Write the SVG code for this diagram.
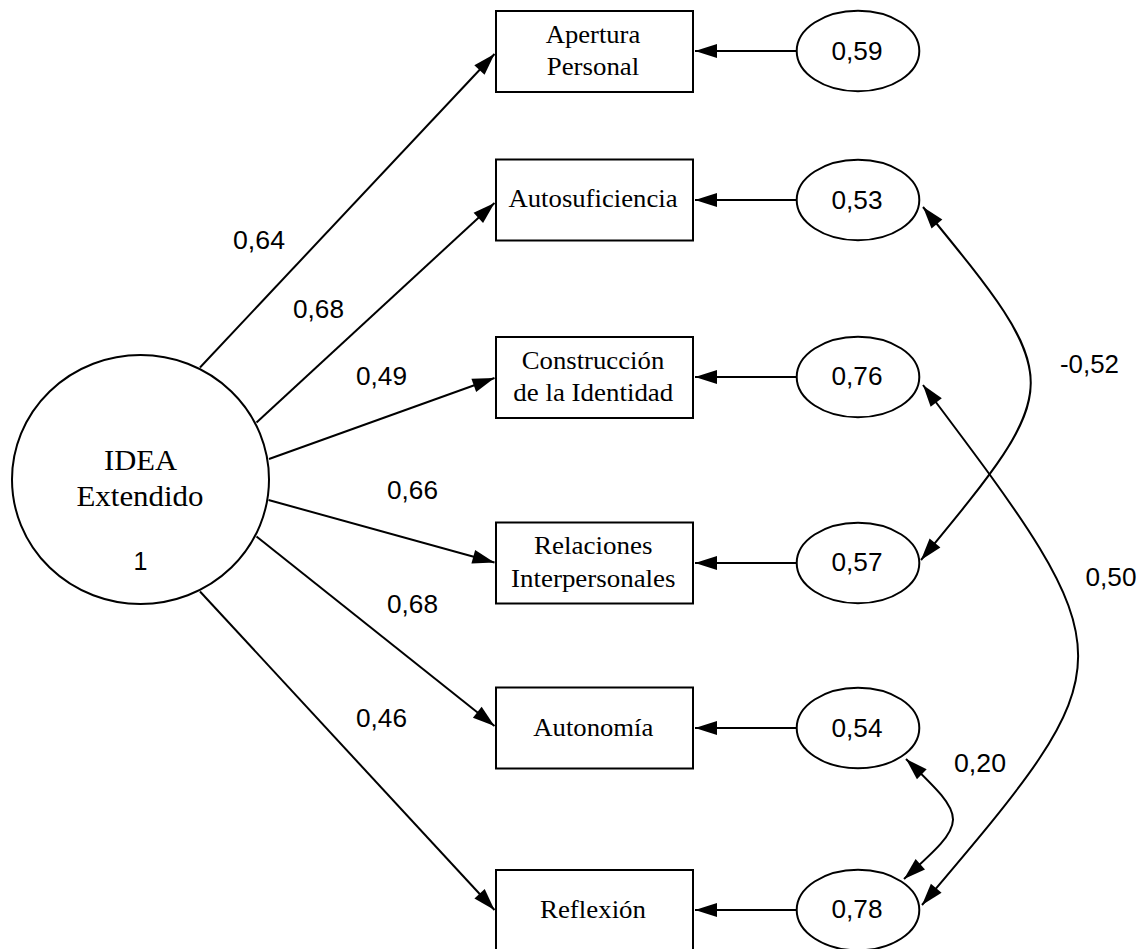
<svg xmlns="http://www.w3.org/2000/svg" width="1141" height="949" viewBox="0 0 1141 949">
<style>
.shape{fill:#fff;stroke:#000;stroke-width:2}
.ln{fill:none;stroke:#000;stroke-width:2}
.arr{marker-end:url(#ah)}
.bi{marker-start:url(#ah);marker-end:url(#ah)}
.serif{font-family:"Liberation Serif","Times New Roman",serif;font-size:26px;fill:#000;text-anchor:middle}
.big{font-size:30px}
.sans{font-family:"Liberation Sans",Arial,Helvetica,sans-serif;font-size:25px;fill:#000;text-anchor:middle}
</style>
<defs>
<marker id="ah" markerUnits="userSpaceOnUse" markerWidth="24" markerHeight="16" refX="22" refY="7" orient="auto-start-reverse" overflow="visible">
<path d="M0,0 L22,7 L0,14 Z" fill="#000"/>
</marker>
</defs>
<rect width="1141" height="949" fill="#fff"/>
<g id="connectors">
<line class="ln arr" x1="200" y1="367.5" x2="494.5" y2="54"/>
<line class="ln arr" x1="256.5" y1="422.5" x2="494.5" y2="203"/>
<line class="ln arr" x1="269" y1="459" x2="494.5" y2="378"/>
<line class="ln arr" x1="268.5" y1="500" x2="494.5" y2="562.5"/>
<line class="ln arr" x1="256.5" y1="536.5" x2="494.5" y2="726"/>
<line class="ln arr" x1="200" y1="591.5" x2="494.5" y2="910"/>
<line class="ln arr" x1="797" y1="51" x2="695" y2="51"/>
<line class="ln arr" x1="797" y1="200" x2="695" y2="200"/>
<line class="ln arr" x1="797" y1="377" x2="695" y2="377"/>
<line class="ln arr" x1="797" y1="563" x2="695" y2="563"/>
<line class="ln arr" x1="797" y1="728" x2="695" y2="728"/>
<line class="ln arr" x1="797" y1="910" x2="695" y2="910"/>
<path class="ln bi" d="M923,207 C1067,383 1067,383 921,560"/>
<path class="ln bi" d="M923,385 C1130,660 1130,660 922,905"/>
<path class="ln bi" d="M906,759 C969,820 969,820 904,879"/>
<text class="sans" x="259" y="249" textLength="52" lengthAdjust="spacingAndGlyphs">0,64</text>
<text class="sans" x="318.5" y="318" textLength="51" lengthAdjust="spacingAndGlyphs">0,68</text>
<text class="sans" x="381.5" y="385" textLength="51" lengthAdjust="spacingAndGlyphs">0,49</text>
<text class="sans" x="412.5" y="499" textLength="51" lengthAdjust="spacingAndGlyphs">0,66</text>
<text class="sans" x="412.5" y="613" textLength="51" lengthAdjust="spacingAndGlyphs">0,68</text>
<text class="sans" x="381.5" y="726.5" textLength="51" lengthAdjust="spacingAndGlyphs">0,46</text>
<text class="sans" x="1089.5" y="373" textLength="59" lengthAdjust="spacingAndGlyphs">-0,52</text>
<text class="sans" x="1111" y="586" textLength="51" lengthAdjust="spacingAndGlyphs">0,50</text>
<text class="sans" x="980" y="771.5" textLength="52" lengthAdjust="spacingAndGlyphs">0,20</text>
</g>
<g id="idea">
<ellipse class="shape" cx="140.5" cy="479.5" rx="128.5" ry="124.5"/>
<text class="serif big" x="140.5" y="470" textLength="73" lengthAdjust="spacingAndGlyphs">IDEA</text>
<text class="serif big" x="140" y="505.5" textLength="127" lengthAdjust="spacingAndGlyphs">Extendido</text>
<text class="sans" x="140.5" y="570">1</text>
</g>
<g id="box-apertura">
<rect class="shape" x="496" y="11" width="197" height="81"/>
<text class="serif" x="593" y="43" textLength="94.5" lengthAdjust="spacingAndGlyphs">Apertura</text>
<text class="serif" x="593" y="75" textLength="92.5" lengthAdjust="spacingAndGlyphs">Personal</text>
</g>
<g id="box-autosuficiencia">
<rect class="shape" x="496" y="159.5" width="197" height="81"/>
<text class="serif" x="593" y="207" textLength="169" lengthAdjust="spacingAndGlyphs">Autosuficiencia</text>
</g>
<g id="box-construccion">
<rect class="shape" x="496" y="337" width="197" height="81"/>
<text class="serif" x="593" y="368.5" textLength="142.5" lengthAdjust="spacingAndGlyphs">Construcción</text>
<text class="serif" x="593.3" y="401" textLength="160" lengthAdjust="spacingAndGlyphs">de la Identidad</text>
</g>
<g id="box-relaciones">
<rect class="shape" x="496" y="522.5" width="197" height="81"/>
<text class="serif" x="593.3" y="553.5" textLength="118.5" lengthAdjust="spacingAndGlyphs">Relaciones</text>
<text class="serif" x="593.3" y="587" textLength="164.5" lengthAdjust="spacingAndGlyphs">Interpersonales</text>
</g>
<g id="box-autonomia">
<rect class="shape" x="496" y="687.5" width="197" height="81"/>
<text class="serif" x="593.3" y="736" textLength="120" lengthAdjust="spacingAndGlyphs">Autonomía</text>
</g>
<g id="box-reflexion">
<rect class="shape" x="496" y="870" width="197" height="81"/>
<text class="serif" x="593" y="918" textLength="106" lengthAdjust="spacingAndGlyphs">Reflexión</text>
</g>
<g id="e1"><ellipse class="shape" cx="858" cy="51" rx="61.3" ry="40.3"/><text class="sans" x="857" y="60" textLength="51" lengthAdjust="spacingAndGlyphs">0,59</text></g>
<g id="e2"><ellipse class="shape" cx="858" cy="200" rx="61.3" ry="40.3"/><text class="sans" x="857" y="208.5" textLength="51" lengthAdjust="spacingAndGlyphs">0,53</text></g>
<g id="e3"><ellipse class="shape" cx="858" cy="377" rx="61.3" ry="40.3"/><text class="sans" x="857" y="385" textLength="51" lengthAdjust="spacingAndGlyphs">0,76</text></g>
<g id="e4"><ellipse class="shape" cx="858" cy="563" rx="61.3" ry="40.3"/><text class="sans" x="857" y="571" textLength="51" lengthAdjust="spacingAndGlyphs">0,57</text></g>
<g id="e5"><ellipse class="shape" cx="858" cy="728" rx="61.3" ry="40.3"/><text class="sans" x="857" y="736.5" textLength="51" lengthAdjust="spacingAndGlyphs">0,54</text></g>
<g id="e6"><ellipse class="shape" cx="858" cy="910" rx="61.3" ry="40.3"/><text class="sans" x="857" y="918" textLength="51" lengthAdjust="spacingAndGlyphs">0,78</text></g>
</svg>
